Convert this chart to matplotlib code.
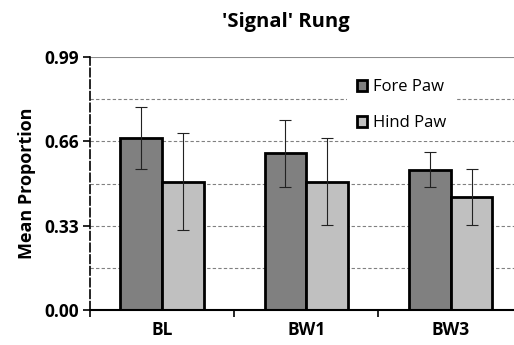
import matplotlib
matplotlib.use("Agg")
import matplotlib.pyplot as plt
import matplotlib.patches as patches
import numpy as np

plt.rcParams['font.family'] = ['Open Sans', 'DejaVu Sans']

# Data.
categories = ['BL', 'BW1', 'BW3']
fore_paw = [0.672, 0.613, 0.550]
fore_err = [0.121, 0.130, 0.070]
hind_paw = [0.503, 0.502, 0.441]
hind_err = [0.190, 0.170, 0.110]
y_ticks = [0.00, 0.33, 0.66, 0.99]
y_tick_labels = ['0.00', '0.33', '0.66', '0.99']

FORE_COLOR = '#808080'
HIND_COLOR = '#c0c0c0'
BAR_W = 0.29

fig = plt.figure(figsize=(5.14, 3.45), dpi=100)
ax = fig.add_axes([0.175, 0.1014, 0.842, 0.733])

x = np.arange(len(categories)) + 0.5

# Dashed gridlines at every sixth of the range, solid line on top.
for g in np.arange(1, 6) * 0.165:
    ax.axhline(g, color='#808080', linestyle=(0, (3, 2)), linewidth=0.8, zorder=0)
ax.axhline(0.99, color='#8c8c8c', linewidth=1.5, zorder=0)

ax.bar(x - BAR_W / 2, fore_paw, BAR_W, color=FORE_COLOR, edgecolor='black', linewidth=2, zorder=2)
ax.bar(x + BAR_W / 2, hind_paw, BAR_W, color=HIND_COLOR, edgecolor='black', linewidth=2, zorder=2)
ax.errorbar(x - BAR_W / 2, fore_paw, yerr=fore_err, fmt='none', ecolor='#222222', elinewidth=0.8, capsize=4, capthick=0.8, zorder=3)
ax.errorbar(x + BAR_W / 2, hind_paw, yerr=hind_err, fmt='none', ecolor='#222222', elinewidth=0.8, capsize=4, capthick=0.8, zorder=3)

ax.set_xlim(0, 3)
ax.set_ylim(0, 0.99)

ax.set_yticks(y_ticks)
ax.set_yticklabels(y_tick_labels, fontsize=12.5, fontweight='bold')
ax.tick_params(axis='y', length=5, width=1.2, direction='out', pad=3)

# Category boundary ticks, labels in the middle.
ax.set_xticks([0, 1, 2, 3])
ax.set_xticklabels([])
ax.tick_params(axis='x', which='major', length=5, width=1.2, direction='out')
ax.set_xticks(x, minor=True)
ax.set_xticklabels(categories, minor=True, fontsize=12.5, fontweight='bold')
ax.tick_params(axis='x', which='minor', length=0, pad=8)

ax.spines['top'].set_visible(False)
ax.spines['right'].set_visible(False)
ax.spines['left'].set_linestyle((0, (5, 2)))
ax.spines['left'].set_linewidth(1.2)
ax.spines['bottom'].set_linewidth(1.5)

ax.set_ylabel('Mean Proportion', fontsize=13, fontweight='bold', labelpad=6)
fig.text(0.556, 0.936, "'Signal' Rung", ha='center', va='center', fontsize=14.5, fontweight='bold')

handles = [patches.Patch(facecolor=FORE_COLOR, edgecolor='black', linewidth=2, label='Fore Paw'),
           patches.Patch(facecolor=HIND_COLOR, edgecolor='black', linewidth=2, label='Hind Paw')]
leg = ax.legend(handles=handles, loc='upper left', bbox_to_anchor=(0.575, 0.985), frameon=True,
                fontsize=12, handlelength=0.6, handleheight=0.6, handletextpad=0.35,
                labelspacing=1.2, borderpad=0.6)
leg.get_frame().set_edgecolor('none')
leg.get_frame().set_facecolor('white')
leg.get_frame().set_alpha(1)
leg.set_zorder(4)

fig.savefig('out.png', dpi=100)
